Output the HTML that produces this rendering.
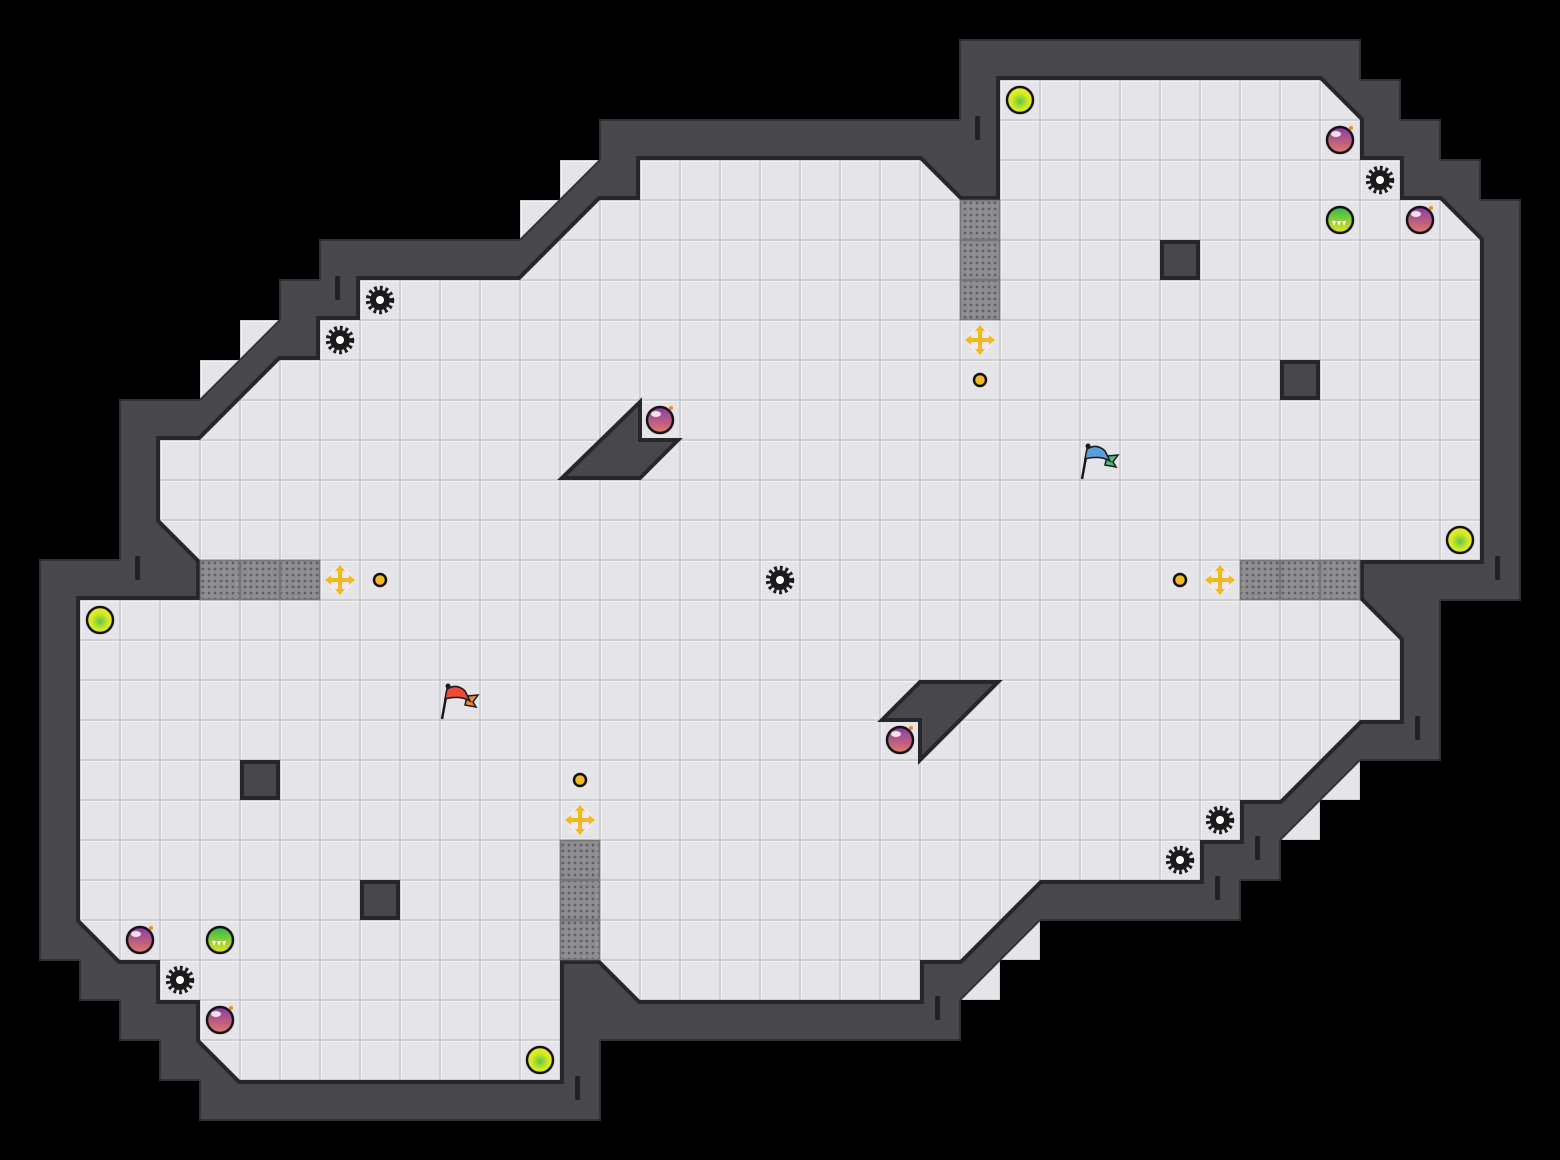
<!DOCTYPE html>
<html><head><meta charset="utf-8"><style>html,body{margin:0;padding:0;background:#000}svg{display:block}</style></head>
<body>
<svg width="1560" height="1160" viewBox="0 0 1560 1160" xmlns="http://www.w3.org/2000/svg">
<defs>
<pattern id="tile" width="40" height="40" patternUnits="userSpaceOnUse">
<rect width="40" height="40" fill="#cfced4"/>
<rect x="1" y="1" width="38" height="38" fill="#f3f3f6"/>
<rect x="2" y="2" width="37" height="37" fill="#e5e4e9"/>
</pattern>
<pattern id="dots" width="6" height="6" patternUnits="userSpaceOnUse" x="2" y="2">
<rect width="6" height="6" fill="#8f8f93"/><circle cx="3" cy="3" r="1.4" fill="#606064"/>
</pattern>
<radialGradient id="orb" cx="0.5" cy="0.55" r="0.55"><stop offset="0" stop-color="#5cc84a"/><stop offset="0.6" stop-color="#d8ea22"/><stop offset="1" stop-color="#eef020"/></radialGradient>
<linearGradient id="bomb" x1="0" y1="0" x2="0" y2="1"><stop offset="0" stop-color="#8a3aa0"/><stop offset="1" stop-color="#e07a6a"/></linearGradient>
<linearGradient id="tooth" x1="0" y1="0" x2="0" y2="1"><stop offset="0" stop-color="#2fb84f"/><stop offset="1" stop-color="#e6e21e"/></linearGradient>
<g id="saw"><circle r="10" fill="#1b1b1d"/><circle r="12" fill="none" stroke="#1b1b1d" stroke-width="4.5" stroke-dasharray="2.8 2.8"/><circle r="4" fill="#fff"/></g>
<g id="orbI"><circle r="13" fill="url(#orb)" stroke="#141414" stroke-width="2.5"/></g>
<g id="bombI"><circle r="13" fill="url(#bomb)" stroke="#141414" stroke-width="2.5"/><ellipse cx="-4" cy="-6" rx="5" ry="3" fill="#fff" opacity="0.85"/><circle cx="11" cy="-12" r="2" fill="#f08a20"/></g>
<g id="toothI"><circle r="13" fill="url(#tooth)" stroke="#141414" stroke-width="2.5"/><path d="M-8,1 L-4,1 L-6,6 Z M-3,1 L1,1 L-1,6 Z M2,1 L6,1 L4,6 Z" fill="#fff"/></g>
<g id="cross"><circle r="13" fill="#eeeeee" opacity="0.8"/><g fill="#f5b820"><rect x="-10" y="-2" width="20" height="4"/><rect x="-2" y="-10" width="4" height="20"/><path d="M-15,0 L-9,-5 L-9,5Z M15,0 L9,-5 L9,5Z M0,-15 L-5,-9 L5,-9Z M0,15 L-5,9 L5,9Z"/></g></g>
<g id="dot"><circle r="6" fill="#f5b820" stroke="#141414" stroke-width="2.5"/></g>
</defs>

<g fill="url(#tile)">
<rect x="560" y="160" width="40" height="40"/><rect x="520" y="200" width="40" height="40"/>
<rect x="240" y="320" width="40" height="40"/><rect x="200" y="360" width="40" height="40"/>
<rect x="1000" y="920" width="40" height="40"/><rect x="960" y="960" width="40" height="40"/>
<rect x="1320" y="760" width="40" height="40"/><rect x="1280" y="800" width="40" height="40"/>
</g>

<path fill="#48474c" stroke="#333236" stroke-width="2" d="M960,40 L1360,40 L1360,80 L1400,80 L1400,120 L1440,120 L1440,160 L1480,160 L1480,200 L1520,200 L1520,600 L1440,600 L1440,760 L1360,760 L1280,840 L1280,880 L1240,880 L1240,920 L1040,920 L960,1000 L960,1040 L600,1040 L600,1120 L200,1120 L200,1080 L160,1080 L160,1040 L120,1040 L120,1000 L80,1000 L80,960 L40,960 L40,560 L120,560 L120,400 L200,400 L280,320 L280,280 L320,280 L320,240 L520,240 L600,160 L600,120 L960,120 Z"/>
<path fill="none" stroke="#27272b" stroke-width="8" d="M1000,80 L1320,80 L1360,120 L1360,160 L1400,160 L1400,200 L1440,200 L1480,240 L1480,560 L1360,560 L1360,600 L1400,640 L1400,720 L1360,720 L1280,800 L1240,800 L1240,840 L1200,840 L1200,880 L1040,880 L960,960 L920,960 L920,1000 L640,1000 L600,960 L560,960 L560,1080 L240,1080 L200,1040 L200,1000 L160,1000 L160,960 L120,960 L80,920 L80,600 L200,600 L200,560 L160,520 L160,440 L200,440 L280,360 L320,360 L320,320 L360,320 L360,280 L520,280 L600,200 L640,200 L640,160 L920,160 L960,200 L1000,200 Z"/>
<path fill="url(#tile)" d="M1000,80 L1320,80 L1360,120 L1360,160 L1400,160 L1400,200 L1440,200 L1480,240 L1480,560 L1360,560 L1360,600 L1400,640 L1400,720 L1360,720 L1280,800 L1240,800 L1240,840 L1200,840 L1200,880 L1040,880 L960,960 L920,960 L920,1000 L640,1000 L600,960 L560,960 L560,1080 L240,1080 L200,1040 L200,1000 L160,1000 L160,960 L120,960 L80,920 L80,600 L200,600 L200,560 L160,520 L160,440 L200,440 L280,360 L320,360 L320,320 L360,320 L360,280 L520,280 L600,200 L640,200 L640,160 L920,160 L960,200 L1000,200 Z"/>

<g fill="#222226">
<rect x="975" y="116" width="5" height="24" rx="2"/><rect x="335" y="276" width="5" height="24" rx="2"/>
<rect x="135" y="556" width="5" height="24" rx="2"/><rect x="1495" y="556" width="5" height="24" rx="2"/>
<rect x="1415" y="716" width="5" height="24" rx="2"/><rect x="1255" y="836" width="5" height="24" rx="2"/>
<rect x="1215" y="876" width="5" height="24" rx="2"/><rect x="935" y="996" width="5" height="24" rx="2"/>
<rect x="575" y="1076" width="5" height="24" rx="2"/>
</g>

<g stroke="#76767a" stroke-width="1.5">
<rect x="960.5" y="200.5" width="39" height="39" fill="url(#dots)"/><rect x="960.5" y="240.5" width="39" height="39" fill="url(#dots)"/><rect x="960.5" y="280.5" width="39" height="39" fill="url(#dots)"/>
<rect x="200.5" y="560.5" width="39" height="39" fill="url(#dots)"/><rect x="240.5" y="560.5" width="39" height="39" fill="url(#dots)"/><rect x="280.5" y="560.5" width="39" height="39" fill="url(#dots)"/>
<rect x="1240.5" y="560.5" width="39" height="39" fill="url(#dots)"/><rect x="1280.5" y="560.5" width="39" height="39" fill="url(#dots)"/><rect x="1320.5" y="560.5" width="39" height="39" fill="url(#dots)"/>
<rect x="560.5" y="840.5" width="39" height="39" fill="url(#dots)"/><rect x="560.5" y="880.5" width="39" height="39" fill="url(#dots)"/><rect x="560.5" y="920.5" width="39" height="39" fill="url(#dots)"/>
</g>

<g fill="#48474c" stroke="#27272b" stroke-width="4">
<rect x="1162" y="242" width="36" height="36"/><rect x="1282" y="362" width="36" height="36"/>
<rect x="242" y="762" width="36" height="36"/><rect x="362" y="882" width="36" height="36"/>
<path d="M640,402 L640,440 L678,440 L640,478 L562,478 Z"/>
<path d="M920,682 L998,682 L920,760 L920,720 L882,720 Z"/>
</g>

<use href="#orbI" x="1020" y="100"/><use href="#orbI" x="1460" y="540"/><use href="#orbI" x="100" y="620"/><use href="#orbI" x="540" y="1060"/>
<use href="#bombI" x="1340" y="140"/><use href="#bombI" x="1420" y="220"/><use href="#bombI" x="660" y="420"/><use href="#bombI" x="900" y="740"/><use href="#bombI" x="140" y="940"/><use href="#bombI" x="220" y="1020"/>
<use href="#toothI" x="1340" y="220"/><use href="#toothI" x="220" y="940"/>
<use href="#saw" x="1380" y="180"/><use href="#saw" x="380" y="300"/><use href="#saw" x="340" y="340"/><use href="#saw" x="780" y="580"/><use href="#saw" x="1220" y="820"/><use href="#saw" x="1180" y="860"/><use href="#saw" x="180" y="980"/>
<use href="#cross" x="980" y="340"/><use href="#cross" x="340" y="580"/><use href="#cross" x="1220" y="580"/><use href="#cross" x="580" y="820"/>
<use href="#dot" x="980" y="380"/><use href="#dot" x="380" y="580"/><use href="#dot" x="1180" y="580"/><use href="#dot" x="580" y="780"/>

<g transform="translate(440,683)">
<line x1="8" y1="3" x2="2" y2="36" stroke="#1a1a1a" stroke-width="2.5"/>
<path d="M27,13 L38,12 L33,19 L36,24 L25,22 Z" fill="#f08a30" stroke="#1a1a1a" stroke-width="1.5"/>
<path d="M7,6 Q17,0 25,8 L30,18 Q20,12 5,16 Z" fill="#ec4a3a" stroke="#1a1a1a" stroke-width="1.5"/>
<circle cx="8" cy="3" r="2.5" fill="#1a1a1a"/>
</g>
<g transform="translate(1080,443)">
<line x1="8" y1="3" x2="2" y2="36" stroke="#1a1a1a" stroke-width="2.5"/>
<path d="M27,13 L38,12 L33,19 L36,24 L25,22 Z" fill="#4abf7a" stroke="#1a1a1a" stroke-width="1.5"/>
<path d="M7,6 Q17,0 25,8 L30,18 Q20,12 5,16 Z" fill="#5a9fd8" stroke="#1a1a1a" stroke-width="1.5"/>
<circle cx="8" cy="3" r="2.5" fill="#1a1a1a"/>
</g>
</svg>
</body></html>
